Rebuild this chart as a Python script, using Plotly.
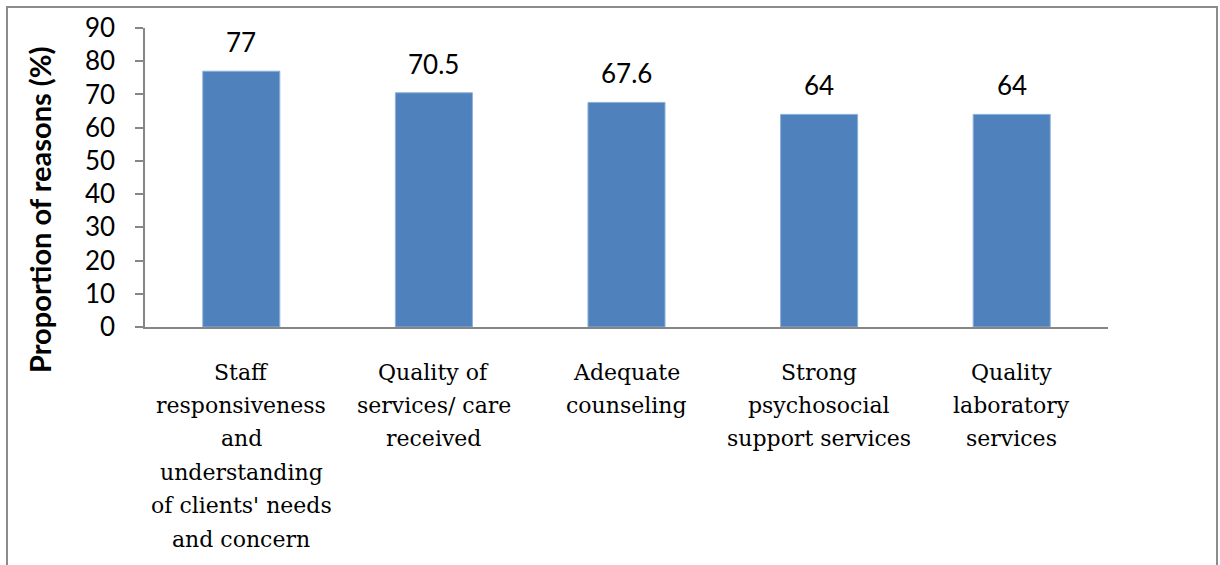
import plotly.graph_objects as go

categories = [
    "Staff responsiveness and understanding of clients' needs and concern",
    "Quality of services/ care received",
    "Adequate counseling",
    "Strong psychosocial support services",
    "Quality laboratory services",
]
label_lines = [
    ["Staff", "responsiveness", "and", "understanding", "of clients' needs", "and concern"],
    ["Quality of", "services/ care", "received"],
    ["Adequate", "counseling"],
    ["Strong", "psychosocial", "support services"],
    ["Quality", "laboratory", "services"],
]
values = [77, 70.5, 67.6, 64, 64]
value_labels = ["77", "70.5", "67.6", "64", "64"]
y_ticks = [0, 10, 20, 30, 40, 50, 60, 70, 80, 90]

W, H = 1220, 565
L, R, T, B = 145, 112, 28, 238
pw, ph = W - L - R, H - T - B

SERIF = "DejaVu Serif"

fig = go.Figure(go.Bar(
    x=categories, y=values,
    marker=dict(color="#4F81BD", line=dict(color="#8DB0DC", width=1)),
    width=0.4, hoverinfo="skip",
))

annotations = []
for cat, v, lab in zip(categories, values, value_labels):
    annotations.append(dict(x=cat, y=v, xref="x", yref="y", text=lab, showarrow=False,
                            yanchor="middle", yshift=29,
                            font=dict(family="Lato", size=26, color="#000")))
for cat, lines in zip(categories, label_lines):
    for i, ln in enumerate(lines):
        annotations.append(dict(x=cat, y=0, xref="x", yref="y", text=ln, showarrow=False,
                                yanchor="middle", yshift=-(45 + 33.4 * i),
                                font=dict(family=SERIF, size=22, color="#000")))
annotations.append(dict(x=(39 - L) / pw, y=(T + ph - 210) / ph, xref="paper", yref="paper",
                        text="<b>Proportion of reasons (%)</b>", textangle=-90, showarrow=False,
                        xanchor="center", yanchor="middle",
                        font=dict(family="Lato", size=29, color="#000")))

fig.update_layout(
    width=W, height=H,
    margin=dict(l=L, r=R, t=T, b=B),
    paper_bgcolor="white", plot_bgcolor="white",
    showlegend=False,
    bargap=0.6,
    xaxis=dict(showticklabels=False, showline=True, linecolor="#868686", linewidth=1.5,
               ticks="", showgrid=False, zeroline=False),
    yaxis=dict(range=[0, 90], tickvals=y_ticks, showline=True, linecolor="#868686", linewidth=1.5,
               ticks="outside", ticklen=8, tickcolor="#868686", tickwidth=1.5,
               ticklabelstandoff=15, showgrid=False, zeroline=False,
               tickfont=dict(family="Lato", size=26, color="#000")),
    annotations=annotations,
    shapes=[dict(type="rect", xref="paper", yref="paper",
                 x0=(7 - L) / pw, x1=(1217 - L) / pw,
                 y0=-(B + 20) / ph, y1=1 + (T - 7) / ph,
                 line=dict(color="#8C8C8C", width=2), fillcolor="rgba(0,0,0,0)", layer="below")],
)

fig.write_html("out.html")
